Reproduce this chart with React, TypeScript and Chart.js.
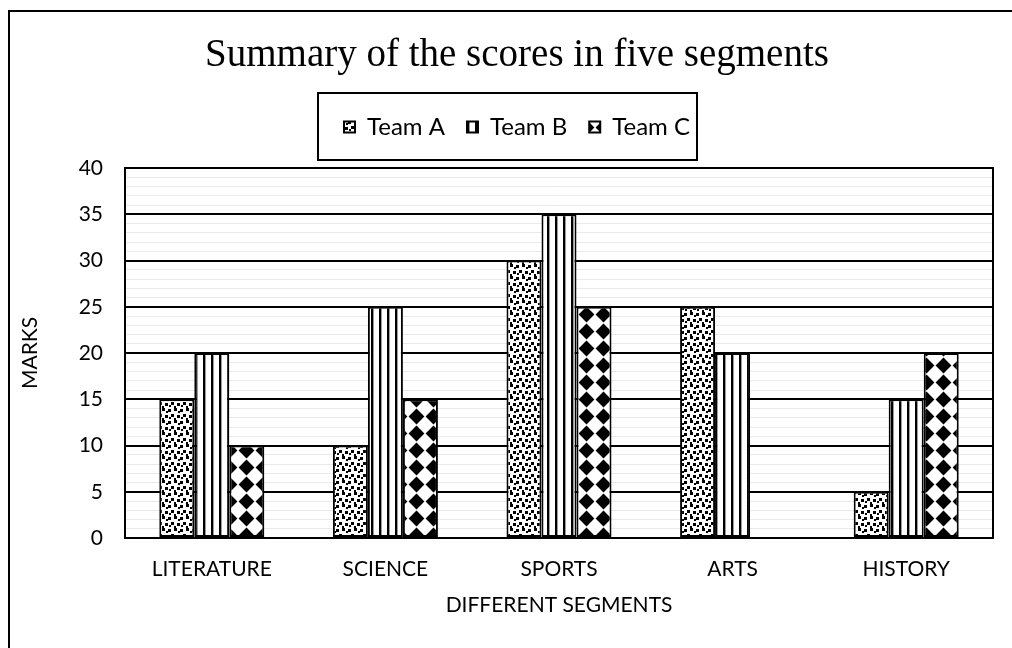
import React, { useEffect, useRef } from 'react';
import { Chart, registerables } from 'chart.js';

Chart.register(...registerables);

// ---- data ----
const categories = ['LITERATURE', 'SCIENCE', 'SPORTS', 'ARTS', 'HISTORY'];
const seriesNames = ['Team A', 'Team B', 'Team C'];
const teamA = [15, 10, 30, 25, 5];
const teamB = [20, 25, 35, 20, 15];
const teamC = [10, 15, 25, 0, 20];
const yMin = 0;
const yMax = 40;
const yMajorStep = 5;
const yMinorStep = 1;
const chartTitle = 'Summary of the scores in five segments';
const xTitle = 'DIFFERENT SEGMENTS';
const yTitle = 'MARKS';

// ---- styling ----
const SANS = 'Lato, "Open Sans", sans-serif';
const SERIF = '"Liberation Serif", "Times New Roman", serif';
const TXT = 21;
const LEG_TXT = 24;
const LEGEND_GAP = 19;

function makeTile(kind: string): HTMLCanvasElement {
  const c = document.createElement('canvas');
  const g = c.getContext('2d') as CanvasRenderingContext2D;
  if (kind === 'A') {
    c.width = 12; c.height = 12;
    g.fillStyle = '#fff'; g.fillRect(0, 0, 12, 12);
    g.fillStyle = '#000';
    const sq = [[0, 1, 3, 3], [6, 0, 3, 3], [3, 6, 3, 3], [9, 7, 3, 3], [10, 3, 2, 2], [6, 10, 2, 2], [1, 9, 2, 2]];
    sq.forEach(([x, y, w, h]) => g.fillRect(x, y, w, h));
  } else if (kind === 'B') {
    c.width = 8; c.height = 8;
    g.fillStyle = '#fff'; g.fillRect(0, 0, 8, 8);
    g.fillStyle = '#000'; g.fillRect(3, 0, 2, 8);
    g.fillStyle = '#999'; g.fillRect(5, 0, 1, 8);
  } else {
    c.width = 17; c.height = 17;
    g.fillStyle = '#fff'; g.fillRect(0, 0, 17, 17);
    g.fillStyle = '#000';
    g.beginPath();
    g.moveTo(8.5, 0.6); g.lineTo(16.4, 8.5); g.lineTo(8.5, 16.4); g.lineTo(0.6, 8.5);
    g.closePath(); g.fill();
  }
  return c;
}

const decorPlugin = {
  id: 'decor',
  beforeLayout(chart: any) {
    const lg = chart.legend;
    if (lg && !lg.__spaced) {
      const orig = lg.fit;
      lg.fit = function () { orig.call(this); this.height += LEGEND_GAP; };
      lg.__spaced = true;
    }
  },
  beforeDraw(chart: any) {
    const ctx = chart.ctx;
    ctx.save();
    ctx.fillStyle = '#fff';
    ctx.fillRect(0, 0, chart.width, chart.height);
    ctx.restore();
  },
  afterDraw(chart: any) {
    const ctx = chart.ctx;
    const { left, top, right, bottom } = chart.chartArea;
    ctx.save();
    ctx.strokeStyle = '#000';
    ctx.lineWidth = 2;
    ctx.strokeRect(left, top, right - left, bottom - top);
    // outer chart frame
    ctx.beginPath();
    ctx.moveTo(9, chart.height);
    ctx.lineTo(9, 11);
    ctx.lineTo(chart.width, 11);
    ctx.stroke();
    // legend frame
    const hb = chart.legend && chart.legend.legendHitBoxes;
    if (hb && hb.length) {
      const first = hb[0];
      const last = hb[hb.length - 1];
      const cy = first.top + first.height / 2;
      const x0 = first.left - 26;
      const x1 = last.left + last.width + 7;
      ctx.strokeRect(Math.round(x0), Math.round(cy - 34), Math.round(x1 - x0), 67);
    }
    ctx.restore();
  },
};

export default function App() {
  const ref = useRef<HTMLCanvasElement | null>(null);

  useEffect(() => {
    const canvas = ref.current;
    if (!canvas) return;
    const ctx = canvas.getContext('2d') as CanvasRenderingContext2D;
    const patA = ctx.createPattern(makeTile('A'), 'repeat');
    const patB = ctx.createPattern(makeTile('B'), 'repeat');
    const patC = ctx.createPattern(makeTile('C'), 'repeat');
    const pats = [patA, patB, patC];
    const values = [teamA, teamB, teamC];

    const chart = new Chart(canvas, {
      type: 'bar',
      data: {
        labels: categories,
        datasets: seriesNames.map((name, i) => ({
          label: name,
          data: values[i],
          backgroundColor: pats[i] as any,
          borderColor: '#000',
          borderWidth: 2,
          borderSkipped: false,
          categoryPercentage: 0.605,
          barPercentage: 1.0,
        })),
      },
      plugins: [decorPlugin as any],
      options: {
        animation: false,
        responsive: false,
        devicePixelRatio: 1,
        events: [],
        layout: { padding: { left: 41, right: 19, top: 0, bottom: 0 } },
        plugins: {
          tooltip: { enabled: false },
          title: {
            display: true,
            text: chartTitle,
            color: '#000',
            font: { family: SERIF, size: 39, weight: 'normal' as any, lineHeight: 1.2 },
            padding: { top: 32.6, bottom: 13.6 },
          },
          legend: {
            display: true,
            position: 'top',
            labels: {
              color: '#000',
              font: { family: SANS, size: LEG_TXT },
              boxWidth: 11,
              boxHeight: 11,
              padding: 22,
            },
          },
        },
        scales: {
          x: {
            grid: { display: false, drawTicks: false },
            border: { display: true, color: '#000', width: 2 },
            ticks: { color: '#000', font: { family: SANS, size: TXT }, padding: 18.4, maxRotation: 0 },
            title: {
              display: true,
              text: xTitle,
              color: '#000',
              font: { family: SANS, size: TXT, lineHeight: 1.2 },
              padding: { top: 0, bottom: 30.4 },
            },
            afterFit: (s: any) => { s.height = 110; },
          },
          y: {
            min: yMin,
            max: yMax,
            grid: {
              drawTicks: false,
              color: (c: any) => (c.tick && c.tick.value % yMajorStep === 0 ? '#000' : '#e9e9e9'),
              lineWidth: (c: any) => (c.tick && c.tick.value % yMajorStep === 0 ? 2 : 1),
            },
            border: { display: true, color: '#000', width: 2 },
            ticks: {
              stepSize: yMinorStep,
              autoSkip: false,
              color: '#000',
              font: { family: SANS, size: TXT },
              padding: 22,
              callback: (v: any) => (Number(v) % yMajorStep === 0 ? String(v) : ''),
            },
            title: {
              display: true,
              text: yTitle,
              color: '#000',
              font: { family: SANS, size: TXT, lineHeight: 1.2 },
              padding: { top: -23.6, bottom: 0 },
            },
            afterFit: (s: any) => { s.width = 84; },
          },
        },
      },
    });
    return () => chart.destroy();
  }, []);

  return (
    <div style={{ position: 'fixed', left: 0, top: 0, width: 1012, height: 648, background: '#fff' }}>
      <canvas ref={ref} width={1012} height={648} style={{ display: 'block' }} />
    </div>
  );
}
